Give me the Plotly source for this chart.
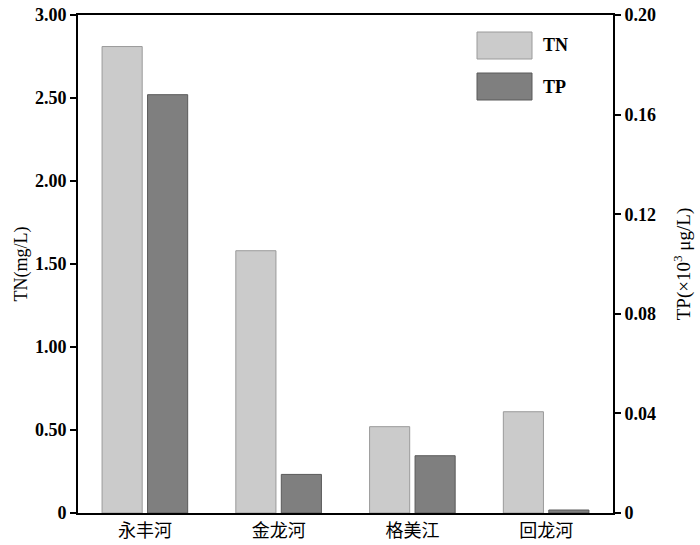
import plotly.graph_objects as go

# Rivers and nutrient concentrations
rivers = ["永丰河", "金龙河", "格美江", "回龙河"]
tn_values = [2.81, 1.58, 0.52, 0.61]        # mg/L
tp_values = [0.168, 0.0155, 0.023, 0.0012]  # x10^3 ug/L

tn_ticks = [0, 0.5, 1.0, 1.5, 2.0, 2.5, 3.0]
tn_ticktext = ["0", "0.50", "1.00", "1.50", "2.00", "2.50", "3.00"]
tp_ticks = [0, 0.04, 0.08, 0.12, 0.16, 0.20]
tp_ticktext = ["0", "0.04", "0.08", "0.12", "0.16", "0.20"]

SERIF = "Liberation Serif, Times New Roman, Noto Sans CJK SC, serif"
TN_COLOR = "#cbcbcb"
TP_COLOR = "#7f7f7f"

fig = go.Figure()
fig.add_trace(go.Bar(
    x=rivers, y=tn_values, name="TN", yaxis="y",
    width=0.30, offset=-0.32,
    marker=dict(color=TN_COLOR, line=dict(color="#9a9a9a", width=1)),
))
fig.add_trace(go.Bar(
    x=rivers, y=tp_values, name="TP", yaxis="y2",
    width=0.30, offset=0.02,
    marker=dict(color=TP_COLOR, line=dict(color="#5a5a5a", width=1)),
))

# custom legend with wide swatches
legend_items = [("TN", TN_COLOR, "#9a9a9a", 32, 59), ("TP", TP_COLOR, "#5a5a5a", 73, 100)]
shapes = []
annotations = []
for label, fill, edge, y0, y1 in legend_items:
    shapes.append(dict(
        type="rect", xref="paper", yref="paper",
        x0=(477 - 78) / 535, x1=(532 - 78) / 535,
        y0=(513 - y1) / 498, y1=(513 - y0) / 498,
        fillcolor=fill, line=dict(color=edge, width=1),
    ))
    annotations.append(dict(
        xref="paper", yref="paper", x=(541 - 78) / 535, y=(513 - (y0 + y1) / 2) / 498,
        text=f"<b>{label}</b>", showarrow=False, xanchor="left", yanchor="middle",
        font=dict(family=SERIF, size=18, color="black"),
    ))

fig.update_layout(
    width=700, height=545,
    margin=dict(l=78, r=87, t=15, b=32),
    paper_bgcolor="white", plot_bgcolor="white",
    showlegend=False,
    barmode="overlay",
    font=dict(family=SERIF, color="black"),
    shapes=shapes,
    annotations=annotations,
    xaxis=dict(
        range=[-0.5, 3.5], showline=True, linecolor="black", linewidth=2,
        mirror=True, ticks="", showgrid=False, automargin=False,
        tickfont=dict(family="Noto Sans CJK SC, sans-serif", size=18),
    ),
    yaxis=dict(
        range=[0, 3.0], tickvals=tn_ticks, ticktext=tn_ticktext,
        showline=True, linecolor="black", linewidth=2, showgrid=False, zeroline=False,
        ticks="outside", ticklen=6, tickwidth=2, tickcolor="black", automargin=False,
        tickfont=dict(family=SERIF, size=18, weight="bold"),
        title=dict(text="TN(mg/L)", font=dict(family=SERIF, size=18), standoff=3),
    ),
    yaxis2=dict(
        range=[0, 0.20], tickvals=tp_ticks, ticktext=tp_ticktext,
        overlaying="y", side="right",
        showline=True, linecolor="black", linewidth=2, showgrid=False, zeroline=False,
        ticks="outside", ticklen=6, tickwidth=2, tickcolor="black", automargin=False,
        tickfont=dict(family=SERIF, size=18, weight="bold"),
        title=dict(text="TP(×10<sup>3</sup> μg/L)", font=dict(family=SERIF, size=19), standoff=22),
    ),
)

fig.write_html(
    "out.html",
    config={"displayModeBar": False},
    post_script="document.body.style.margin='0';",
)
